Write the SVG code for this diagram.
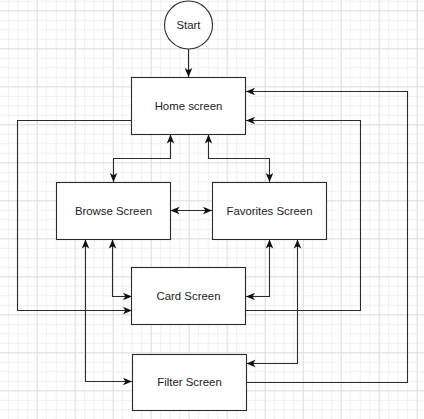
<svg xmlns="http://www.w3.org/2000/svg" width="424" height="419" viewBox="0 0 424 419">
<style>
.node{fill:#fff;stroke:#2b2b2b;stroke-width:1.1}
.lbl{font-family:"Liberation Sans",Arial,sans-serif;font-size:11.4px;fill:#222;text-anchor:middle;dominant-baseline:central}
.edge{fill:none;stroke:#2b2b2b;stroke-width:1.1}
</style>
<defs>
<pattern id="minor" patternUnits="userSpaceOnUse" x="8.2" y="0.8" width="9.5" height="9.5">
<path d="M0.5,0 V9.5 M0,0.5 H9.5" stroke="#efefef" stroke-width="1" fill="none"/>
</pattern>
<pattern id="major" patternUnits="userSpaceOnUse" x="36.7" y="10.3" width="38" height="38">
<path d="M0.5,0 V38 M0,0.5 H38" stroke="#e0e0e0" stroke-width="1" fill="none"/>
</pattern>
<marker id="arr" markerUnits="userSpaceOnUse" viewBox="0 0 10 10" refX="10" refY="5" markerWidth="9" markerHeight="9" orient="auto-start-reverse">
<path d="M0,0.8 L10,5 L0,9.2 L2.6,5 z" fill="#111"/>
</marker>
</defs>
<rect width="424" height="419" fill="#fff"/>
<rect width="424" height="419" fill="url(#minor)"/>
<rect width="424" height="419" fill="url(#major)"/>

<g id="connectors">
<path class="edge" d="M188.5,49 V77" marker-end="url(#arr)"/>
<path class="edge" d="M170.5,134.5 V158.5 H113.5 V182" marker-start="url(#arr)" marker-end="url(#arr)"/>
<path class="edge" d="M208.5,134.5 V158.5 H269.5 V182" marker-start="url(#arr)" marker-end="url(#arr)"/>
<path class="edge" d="M170.5,210.5 H212" marker-start="url(#arr)" marker-end="url(#arr)"/>
<path class="edge" d="M112.5,239.5 V296.5 H132" marker-start="url(#arr)" marker-end="url(#arr)"/>
<path class="edge" d="M269.5,239.5 V296.5 H246" marker-start="url(#arr)" marker-end="url(#arr)"/>
<path class="edge" d="M85.5,239.5 V381.5 H132" marker-start="url(#arr)" marker-end="url(#arr)"/>
<path class="edge" d="M297.5,239.5 V363.5 H246.5" marker-start="url(#arr)" marker-end="url(#arr)"/>
<path class="edge" d="M132,120.5 H17.5 V310.5 H132" marker-end="url(#arr)"/>
<path class="edge" d="M246,310.5 H360.5 V120.5 H246" marker-end="url(#arr)"/>
<path class="edge" d="M246.5,382.5 H407.5 V91.5 H246" marker-end="url(#arr)"/>
</g>

<g id="start">
<circle class="node" cx="188.5" cy="25" r="24"/>
<text class="lbl" x="188.5" y="25">Start</text>
</g>
<g id="home">
<rect class="node" x="131.5" y="77.5" width="114" height="57"/>
<text class="lbl" x="188.5" y="106">Home screen</text>
</g>
<g id="browse">
<rect class="node" x="56.5" y="182.5" width="114" height="57"/>
<text class="lbl" x="113.5" y="211">Browse Screen</text>
</g>
<g id="favorites">
<rect class="node" x="212.5" y="182.5" width="114" height="57"/>
<text class="lbl" x="269.5" y="211">Favorites Screen</text>
</g>
<g id="card">
<rect class="node" x="131.5" y="267.5" width="114" height="57"/>
<text class="lbl" x="188.5" y="296">Card Screen</text>
</g>
<g id="filter">
<rect class="node" x="132.5" y="354.5" width="114" height="56"/>
<text class="lbl" x="189.5" y="382">Filter Screen</text>
</g>
</svg>
